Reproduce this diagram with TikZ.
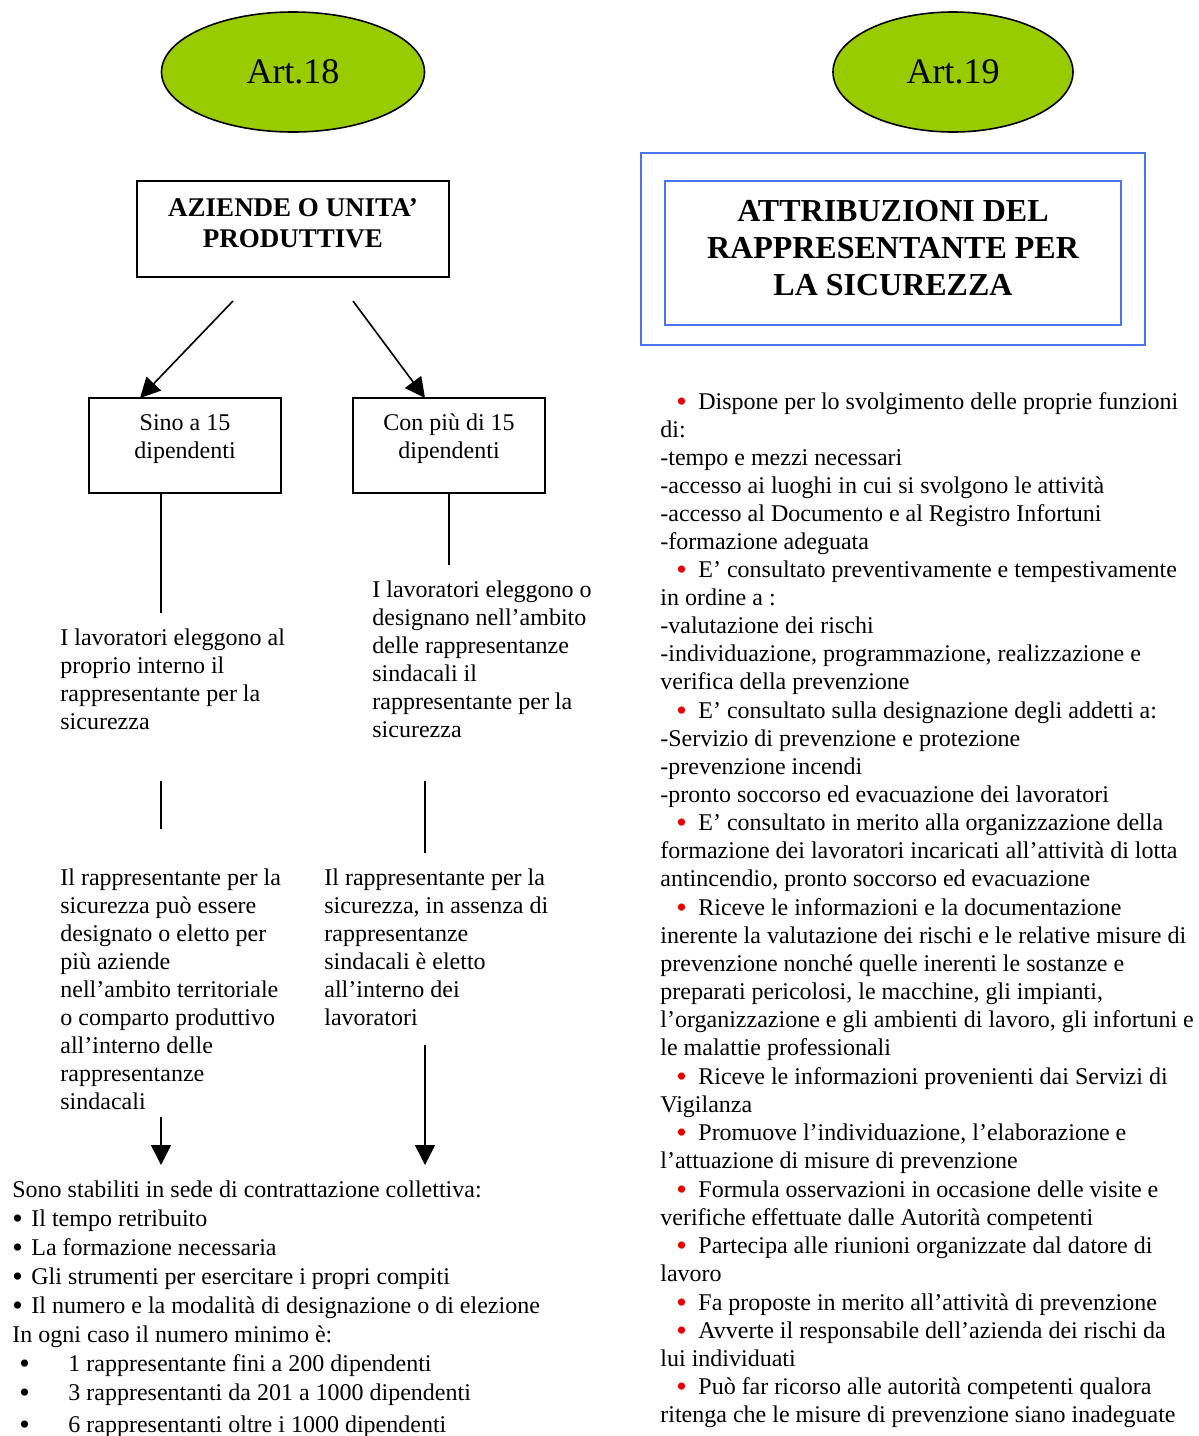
\documentclass[tikz,border=0pt]{standalone}
\usepackage{fontspec}
\setmainfont{Liberation Serif}
\usetikzlibrary{shapes.geometric, arrows.meta}
\definecolor{artgreen}{RGB}{153,204,0}
\definecolor{titleblue}{RGB}{74,116,240}
\definecolor{dotred}{RGB}{235,0,0}
\newcommand{\bigdot}{\raisebox{-0.9pt}{\fontsize{15}{14}\selectfont•}}
\newcommand{\rdot}{\makebox[19pt][l]{\hspace*{8pt}\textcolor{dotred}{\bigdot}}}
\newcommand{\bdot}{\makebox[9.5pt][l]{\bigdot}}
\newcommand{\ldot}{\makebox[28pt][l]{\hspace*{3.5pt}\bigdot}}

\begin{document}
\begin{tikzpicture}[x=0.5pt, y=-0.5pt, every node/.style={font=\fontsize{12}{14}\selectfont},
    txt/.style={anchor=north west, align=left, inner sep=0pt, yshift=9.8pt},
    boxtext/.style={anchor=north, align=center, inner sep=0pt, yshift=9.8pt},
    box/.style={draw, line width=0.8pt, inner sep=0pt},
    artnode/.style={ellipse, draw, line width=0.8pt, fill=artgreen, minimum height=60pt, font=\fontsize{18}{20}\selectfont},
    conn/.style={line width=0.8pt},
    arr/.style={line width=0.8pt, -{Triangle[length=10pt,width=10pt]}}]
  \useasboundingbox (0,0) rectangle (1199,1436);

  % titoli
  \node[artnode, minimum width=131.5pt] (art18) at (293,72) {Art.18};
  \node[artnode, minimum width=120pt] (art19) at (953,72) {Art.19};

  % colonna Art.18
  \node[box, minimum width=156pt, minimum height=48pt] (aziende) at (293,229) {};
  \node[boxtext, yshift=1.05pt, font=\bfseries\fontsize{13.5}{15.5}\selectfont] (azitext) at (293,216) {\strut AZIENDE O UNITA’\\PRODUTTIVE};

  \node[box, minimum width=96pt, minimum height=47.5pt] (sino) at (185,445.5) {};
  \node[boxtext] (sinotext) at (185,430) {\strut Sino a 15\\dipendenti};
  \node[box, minimum width=96pt, minimum height=47.5pt] (con) at (449,445.5) {};
  \node[boxtext] (context) at (449,430) {\strut Con più di 15\\dipendenti};

  \coordinate (s1) at (233,301);
  \coordinate (s2) at (353,301);
  \coordinate (sinotop) at (140,398);
  \coordinate (contop) at (425,398);
  \draw[arr] (s1) -- (sinotop);
  \draw[arr] (s2) -- (contop);

  \coordinate (d1) at (161,613);
  \coordinate (d2) at (449,565);
  \draw[conn] (sino.south -| d1) -- (d1);
  \draw[conn] (con.south) -- (d2);

  \node[txt] (lav1) at (60,645) {\strut I lavoratori eleggono al\\proprio interno il\\rappresentante per la\\sicurezza};
  \node[txt] (lav2) at (372,597) {\strut I lavoratori eleggono o\\designano nell’ambito\\delle rappresentanze\\sindacali il\\rappresentante per la\\sicurezza};

  \coordinate (e1a) at (161,781);
  \coordinate (e1b) at (161,829);
  \coordinate (e2a) at (425,781);
  \coordinate (e2b) at (425,853);
  \draw[conn] (e1a) -- (e1b);
  \draw[conn] (e2a) -- (e2b);

  \node[txt] (rapp1) at (60,885) {\strut Il rappresentante per la\\sicurezza può essere\\designato o eletto per\\più aziende\\nell’ambito territoriale\\o comparto produttivo\\all’interno delle\\rappresentanze\\sindacali};
  \node[txt] (rapp2) at (324,885) {\strut Il rappresentante per la\\sicurezza, in assenza di\\rappresentanze\\sindacali è eletto\\all’interno dei\\lavoratori};

  \coordinate (f1a) at (161,1117);
  \coordinate (f1b) at (161,1165);
  \coordinate (f2a) at (425,1045);
  \coordinate (f2b) at (425,1165);
  \draw[arr] (f1a) -- (f1b);
  \draw[arr] (f2a) -- (f2b);

  \node[txt, yshift=0.35pt, font=\fontsize{12}{14.5}\selectfont] (contr) at (12,1197) {\strut Sono stabiliti in sede di contrattazione collettiva:\\
    \bdot Il tempo retribuito\\
    \bdot La formazione necessaria\\
    \bdot Gli strumenti per esercitare i propri compiti\\
    \bdot Il numero e la modalità di designazione o di elezione\\
    In ogni caso il numero minimo è:\\
    \ldot 1 rappresentante fini a 200 dipendenti\\
    \ldot 3 rappresentanti da 201 a 1000 dipendenti\\[1.5pt]
    \ldot 6 rappresentanti oltre i 1000 dipendenti};

  % colonna Art.19
  \node[draw=titleblue, line width=1pt, minimum width=252pt, minimum height=96pt] (outer) at (893,249) {};
  \node[draw=titleblue, line width=1pt, minimum width=228pt, minimum height=72pt] (inner) at (893,253) {};
  \node[boxtext, yshift=3.15pt, font=\bfseries\fontsize{16}{18.5}\selectfont] (titletext) at (893,221) {\strut ATTRIBUZIONI DEL\\RAPPRESENTANTE PER\\LA SICUREZZA};

  \node[txt] (attrib) at (660,409) {\strut\rdot Dispone per lo svolgimento delle proprie funzioni\\
    di:\\
    -tempo e mezzi necessari\\
    -accesso ai luoghi in cui si svolgono le attività\\
    -accesso al Documento e al Registro Infortuni\\
    -formazione adeguata\\[0.25pt]
    \rdot E’ consultato preventivamente e tempestivamente\\
    in ordine a :\\
    -valutazione dei rischi\\
    -individuazione, programmazione, realizzazione e\\
    verifica della prevenzione\\[0.25pt]
    \rdot E’ consultato sulla designazione degli addetti a:\\
    -Servizio di prevenzione e protezione\\
    -prevenzione incendi\\
    -pronto soccorso ed evacuazione dei lavoratori\\[0.25pt]
    \rdot E’ consultato in merito alla organizzazione della\\
    formazione dei lavoratori incaricati all’attività di lotta\\
    antincendio, pronto soccorso ed evacuazione\\[0.5pt]
    \rdot Riceve le informazioni e la documentazione\\
    inerente la valutazione dei rischi e le relative misure di\\
    prevenzione nonché quelle inerenti le sostanze e\\
    preparati pericolosi, le macchine, gli impianti,\\
    l’organizzazione e gli ambienti di lavoro, gli infortuni e\\
    le malattie professionali\\[0.25pt]
    \rdot Riceve le informazioni provenienti dai Servizi di\\
    Vigilanza\\[0.25pt]
    \rdot Promuove l’individuazione, l’elaborazione e\\
    l’attuazione di misure di prevenzione\\[0.25pt]
    \rdot Formula osservazioni in occasione delle visite e\\
    verifiche effettuate dalle Autorità competenti\\[0.25pt]
    \rdot Partecipa alle riunioni organizzate dal datore di\\
    lavoro\\[0.25pt]
    \rdot Fa proposte in merito all’attività di prevenzione\\
    \rdot Avverte il responsabile dell’azienda dei rischi da\\
    lui individuati\\[0.25pt]
    \rdot Può far ricorso alle autorità competenti qualora\\
    ritenga che le misure di prevenzione siano inadeguate};
\end{tikzpicture}
\end{document}
